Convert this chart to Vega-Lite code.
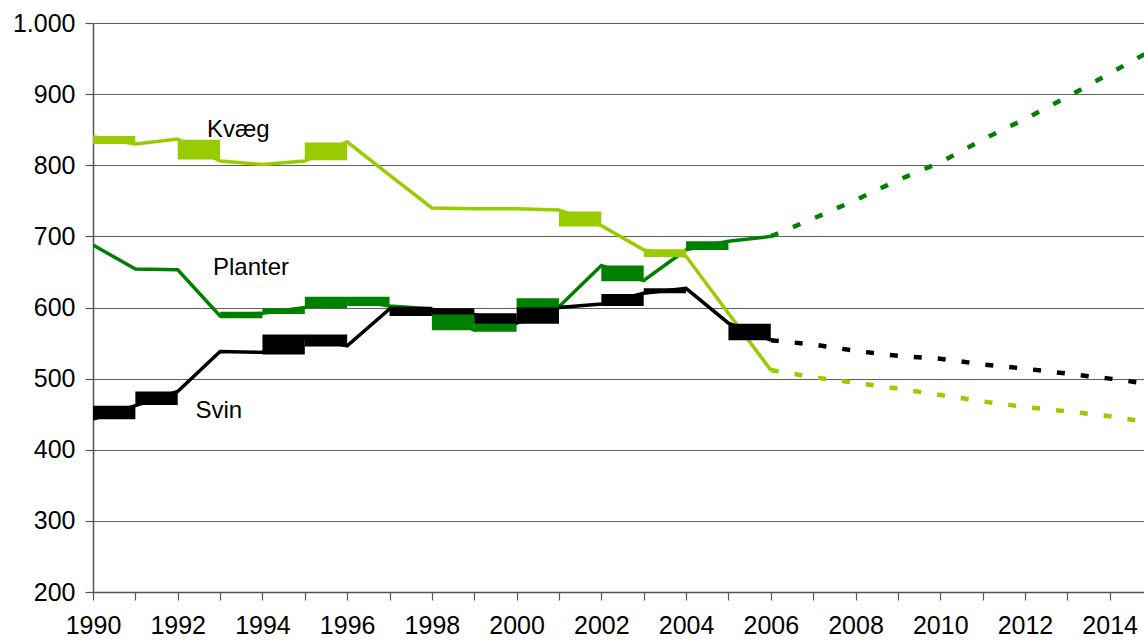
{
  "$schema": "https://vega.github.io/schema/vega-lite/v6.json",
  "width": 1051,
  "height": 569,
  "autosize": {"type": "none"},
  "padding": {"left": 93, "top": 23, "right": 0, "bottom": 52},
  "background": "white",
  "config": {
    "view": {"stroke": null},
    "font": "Liberation Sans",
    "axis": {
      "labelFont": "Liberation Sans",
      "labelFontSize": 25,
      "labelColor": "#000000",
      "domainColor": "#555555",
      "domainWidth": 1.5,
      "tickColor": "#555555",
      "tickWidth": 1.2,
      "tickSize": 8
    }
  },
  "datasets": {
    "serier": [
      {"serie": "Kvæg", "aar": 1990, "vaerdi": 840},
      {"serie": "Kvæg", "aar": 1991, "vaerdi": 830},
      {"serie": "Kvæg", "aar": 1992, "vaerdi": 837},
      {"serie": "Kvæg", "aar": 1993, "vaerdi": 806},
      {"serie": "Kvæg", "aar": 1994, "vaerdi": 801},
      {"serie": "Kvæg", "aar": 1995, "vaerdi": 806},
      {"serie": "Kvæg", "aar": 1996, "vaerdi": 833},
      {"serie": "Kvæg", "aar": 1997, "vaerdi": 786},
      {"serie": "Kvæg", "aar": 1998, "vaerdi": 740},
      {"serie": "Kvæg", "aar": 1999, "vaerdi": 739},
      {"serie": "Kvæg", "aar": 2000, "vaerdi": 739},
      {"serie": "Kvæg", "aar": 2001, "vaerdi": 737},
      {"serie": "Kvæg", "aar": 2002, "vaerdi": 715},
      {"serie": "Kvæg", "aar": 2003, "vaerdi": 681},
      {"serie": "Kvæg", "aar": 2004, "vaerdi": 672},
      {"serie": "Kvæg", "aar": 2005, "vaerdi": 592},
      {"serie": "Kvæg", "aar": 2006, "vaerdi": 512},
      {"serie": "Kvæg", "aar": 2007, "vaerdi": 502},
      {"serie": "Kvæg", "aar": 2008, "vaerdi": 494},
      {"serie": "Kvæg", "aar": 2009, "vaerdi": 486},
      {"serie": "Kvæg", "aar": 2010, "vaerdi": 477},
      {"serie": "Kvæg", "aar": 2011, "vaerdi": 468},
      {"serie": "Kvæg", "aar": 2012, "vaerdi": 460},
      {"serie": "Kvæg", "aar": 2013, "vaerdi": 454},
      {"serie": "Kvæg", "aar": 2014, "vaerdi": 447},
      {"serie": "Kvæg", "aar": 2015, "vaerdi": 438},
      {"serie": "Planter", "aar": 1990, "vaerdi": 688},
      {"serie": "Planter", "aar": 1991, "vaerdi": 654},
      {"serie": "Planter", "aar": 1992, "vaerdi": 653},
      {"serie": "Planter", "aar": 1993, "vaerdi": 588},
      {"serie": "Planter", "aar": 1994, "vaerdi": 592},
      {"serie": "Planter", "aar": 1995, "vaerdi": 600},
      {"serie": "Planter", "aar": 1996, "vaerdi": 612},
      {"serie": "Planter", "aar": 1997, "vaerdi": 602},
      {"serie": "Planter", "aar": 1998, "vaerdi": 598},
      {"serie": "Planter", "aar": 1999, "vaerdi": 568},
      {"serie": "Planter", "aar": 2000, "vaerdi": 584},
      {"serie": "Planter", "aar": 2001, "vaerdi": 601},
      {"serie": "Planter", "aar": 2002, "vaerdi": 659},
      {"serie": "Planter", "aar": 2003, "vaerdi": 638},
      {"serie": "Planter", "aar": 2004, "vaerdi": 681},
      {"serie": "Planter", "aar": 2005, "vaerdi": 693},
      {"serie": "Planter", "aar": 2006, "vaerdi": 700},
      {"serie": "Planter", "aar": 2007, "vaerdi": 725},
      {"serie": "Planter", "aar": 2008, "vaerdi": 751},
      {"serie": "Planter", "aar": 2009, "vaerdi": 779},
      {"serie": "Planter", "aar": 2010, "vaerdi": 804},
      {"serie": "Planter", "aar": 2011, "vaerdi": 836},
      {"serie": "Planter", "aar": 2012, "vaerdi": 865},
      {"serie": "Planter", "aar": 2013, "vaerdi": 896},
      {"serie": "Planter", "aar": 2014, "vaerdi": 929},
      {"serie": "Planter", "aar": 2015, "vaerdi": 962},
      {"serie": "Svin", "aar": 1990, "vaerdi": 443},
      {"serie": "Svin", "aar": 1991, "vaerdi": 462},
      {"serie": "Svin", "aar": 1992, "vaerdi": 482},
      {"serie": "Svin", "aar": 1993, "vaerdi": 538},
      {"serie": "Svin", "aar": 1994, "vaerdi": 537},
      {"serie": "Svin", "aar": 1995, "vaerdi": 558},
      {"serie": "Svin", "aar": 1996, "vaerdi": 546},
      {"serie": "Svin", "aar": 1997, "vaerdi": 598},
      {"serie": "Svin", "aar": 1998, "vaerdi": 596},
      {"serie": "Svin", "aar": 1999, "vaerdi": 590},
      {"serie": "Svin", "aar": 2000, "vaerdi": 578},
      {"serie": "Svin", "aar": 2001, "vaerdi": 600},
      {"serie": "Svin", "aar": 2002, "vaerdi": 605},
      {"serie": "Svin", "aar": 2003, "vaerdi": 620},
      {"serie": "Svin", "aar": 2004, "vaerdi": 627},
      {"serie": "Svin", "aar": 2005, "vaerdi": 578},
      {"serie": "Svin", "aar": 2006, "vaerdi": 554},
      {"serie": "Svin", "aar": 2007, "vaerdi": 548},
      {"serie": "Svin", "aar": 2008, "vaerdi": 539},
      {"serie": "Svin", "aar": 2009, "vaerdi": 532},
      {"serie": "Svin", "aar": 2010, "vaerdi": 528},
      {"serie": "Svin", "aar": 2011, "vaerdi": 520},
      {"serie": "Svin", "aar": 2012, "vaerdi": 514},
      {"serie": "Svin", "aar": 2013, "vaerdi": 507},
      {"serie": "Svin", "aar": 2014, "vaerdi": 500},
      {"serie": "Svin", "aar": 2015, "vaerdi": 492}
    ],
    "blokke": [
      {"serie": "Kvæg", "aar": 1990, "til": 1991, "vaerdi": 830, "hoj": 841},
      {"serie": "Kvæg", "aar": 1992, "til": 1993, "vaerdi": 808, "hoj": 836},
      {"serie": "Kvæg", "aar": 1995, "til": 1996, "vaerdi": 807, "hoj": 832},
      {"serie": "Kvæg", "aar": 2001, "til": 2002, "vaerdi": 714, "hoj": 735},
      {"serie": "Kvæg", "aar": 2003, "til": 2004, "vaerdi": 671, "hoj": 682},
      {"serie": "Planter", "aar": 1993, "til": 1994, "vaerdi": 585, "hoj": 594},
      {"serie": "Planter", "aar": 1994, "til": 1995, "vaerdi": 591, "hoj": 599},
      {"serie": "Planter", "aar": 1995, "til": 1996, "vaerdi": 599, "hoj": 615},
      {"serie": "Planter", "aar": 1996, "til": 1997, "vaerdi": 602, "hoj": 615},
      {"serie": "Planter", "aar": 1998, "til": 1999, "vaerdi": 568, "hoj": 597},
      {"serie": "Planter", "aar": 1999, "til": 2000, "vaerdi": 566, "hoj": 578},
      {"serie": "Planter", "aar": 2000, "til": 2001, "vaerdi": 599, "hoj": 613},
      {"serie": "Planter", "aar": 2002, "til": 2003, "vaerdi": 637, "hoj": 659},
      {"serie": "Planter", "aar": 2004, "til": 2005, "vaerdi": 681, "hoj": 693},
      {"serie": "Svin", "aar": 1990, "til": 1991, "vaerdi": 443, "hoj": 462},
      {"serie": "Svin", "aar": 1991, "til": 1992, "vaerdi": 463, "hoj": 482},
      {"serie": "Svin", "aar": 1994, "til": 1995, "vaerdi": 534, "hoj": 562},
      {"serie": "Svin", "aar": 1995, "til": 1996, "vaerdi": 545, "hoj": 562},
      {"serie": "Svin", "aar": 1997, "til": 1998, "vaerdi": 588, "hoj": 601},
      {"serie": "Svin", "aar": 1998, "til": 1999, "vaerdi": 590, "hoj": 599},
      {"serie": "Svin", "aar": 1999, "til": 2000, "vaerdi": 577, "hoj": 592},
      {"serie": "Svin", "aar": 2000, "til": 2001, "vaerdi": 577, "hoj": 600},
      {"serie": "Svin", "aar": 2002, "til": 2003, "vaerdi": 602, "hoj": 619},
      {"serie": "Svin", "aar": 2003, "til": 2004, "vaerdi": 620, "hoj": 627},
      {"serie": "Svin", "aar": 2005, "til": 2006, "vaerdi": 554, "hoj": 577}
    ],
    "etiketter": [
      {"serie": "Kvæg", "aar": 1993.43, "vaerdi": 840},
      {"serie": "Planter", "aar": 1993.73, "vaerdi": 646},
      {"serie": "Svin", "aar": 1992.97, "vaerdi": 444}
    ]
  },
  "layer": [
    {
      "data": {"name": "serier"},
      "transform": [{"filter": "datum.aar <= 2006"}],
      "mark": {"type": "line", "strokeWidth": 3.5, "clip": true},
      "encoding": {
        "x": {
          "field": "aar", "type": "quantitative",
          "scale": {"domain": [1990, 2014.81], "nice": false, "zero": false},
          "axis": {
            "title": null,
            "values": [1990, 1991, 1992, 1993, 1994, 1995, 1996, 1997, 1998, 1999, 2000, 2001, 2002, 2003, 2004, 2005, 2006, 2007, 2008, 2009, 2010, 2011, 2012, 2013, 2014],
            "labelExpr": "datum.value % 2 === 0 ? '' + datum.value : ''",
            "labelOverlap": false,
            "labelFlush": false,
            "labelPadding": 13,
            "grid": false
          }
        },
        "y": {
          "field": "vaerdi", "type": "quantitative",
          "scale": {"domain": [200, 1000], "nice": false, "zero": false},
          "axis": {
            "title": null,
            "values": [200, 300, 400, 500, 600, 700, 800, 900, 1000],
            "labelExpr": "replace(format(datum.value, ','), ',', '.')",
            "labelPadding": 10,
            "grid": true,
            "gridColor": "#606060",
            "gridWidth": 1.2
          }
        },
        "color": {
          "field": "serie", "type": "nominal",
          "scale": {"domain": ["Kvæg", "Planter", "Svin"], "range": ["#99CC00", "#008000", "#000000"]},
          "legend": null
        }
      }
    },
    {
      "data": {"name": "serier"},
      "transform": [{"filter": "datum.aar >= 2006"}],
      "mark": {"type": "line", "strokeWidth": 4.5, "strokeDash": [8, 16], "strokeCap": "butt", "clip": true},
      "encoding": {
        "x": {"field": "aar", "type": "quantitative"},
        "y": {"field": "vaerdi", "type": "quantitative"},
        "color": {"field": "serie", "type": "nominal", "legend": null}
      }
    },
    {
      "data": {"name": "blokke"},
      "mark": {"type": "rect", "clip": true},
      "encoding": {
        "x": {"field": "aar", "type": "quantitative"},
        "x2": {"field": "til"},
        "y": {"field": "vaerdi", "type": "quantitative"},
        "y2": {"field": "hoj"},
        "color": {"field": "serie", "type": "nominal", "legend": null}
      }
    },
    {
      "data": {"name": "etiketter"},
      "mark": {"type": "text", "font": "Liberation Sans", "fontSize": 24, "align": "center", "baseline": "alphabetic", "color": "#000000"},
      "encoding": {
        "x": {"field": "aar", "type": "quantitative"},
        "y": {"field": "vaerdi", "type": "quantitative"},
        "text": {"field": "serie"}
      }
    }
  ]
}
